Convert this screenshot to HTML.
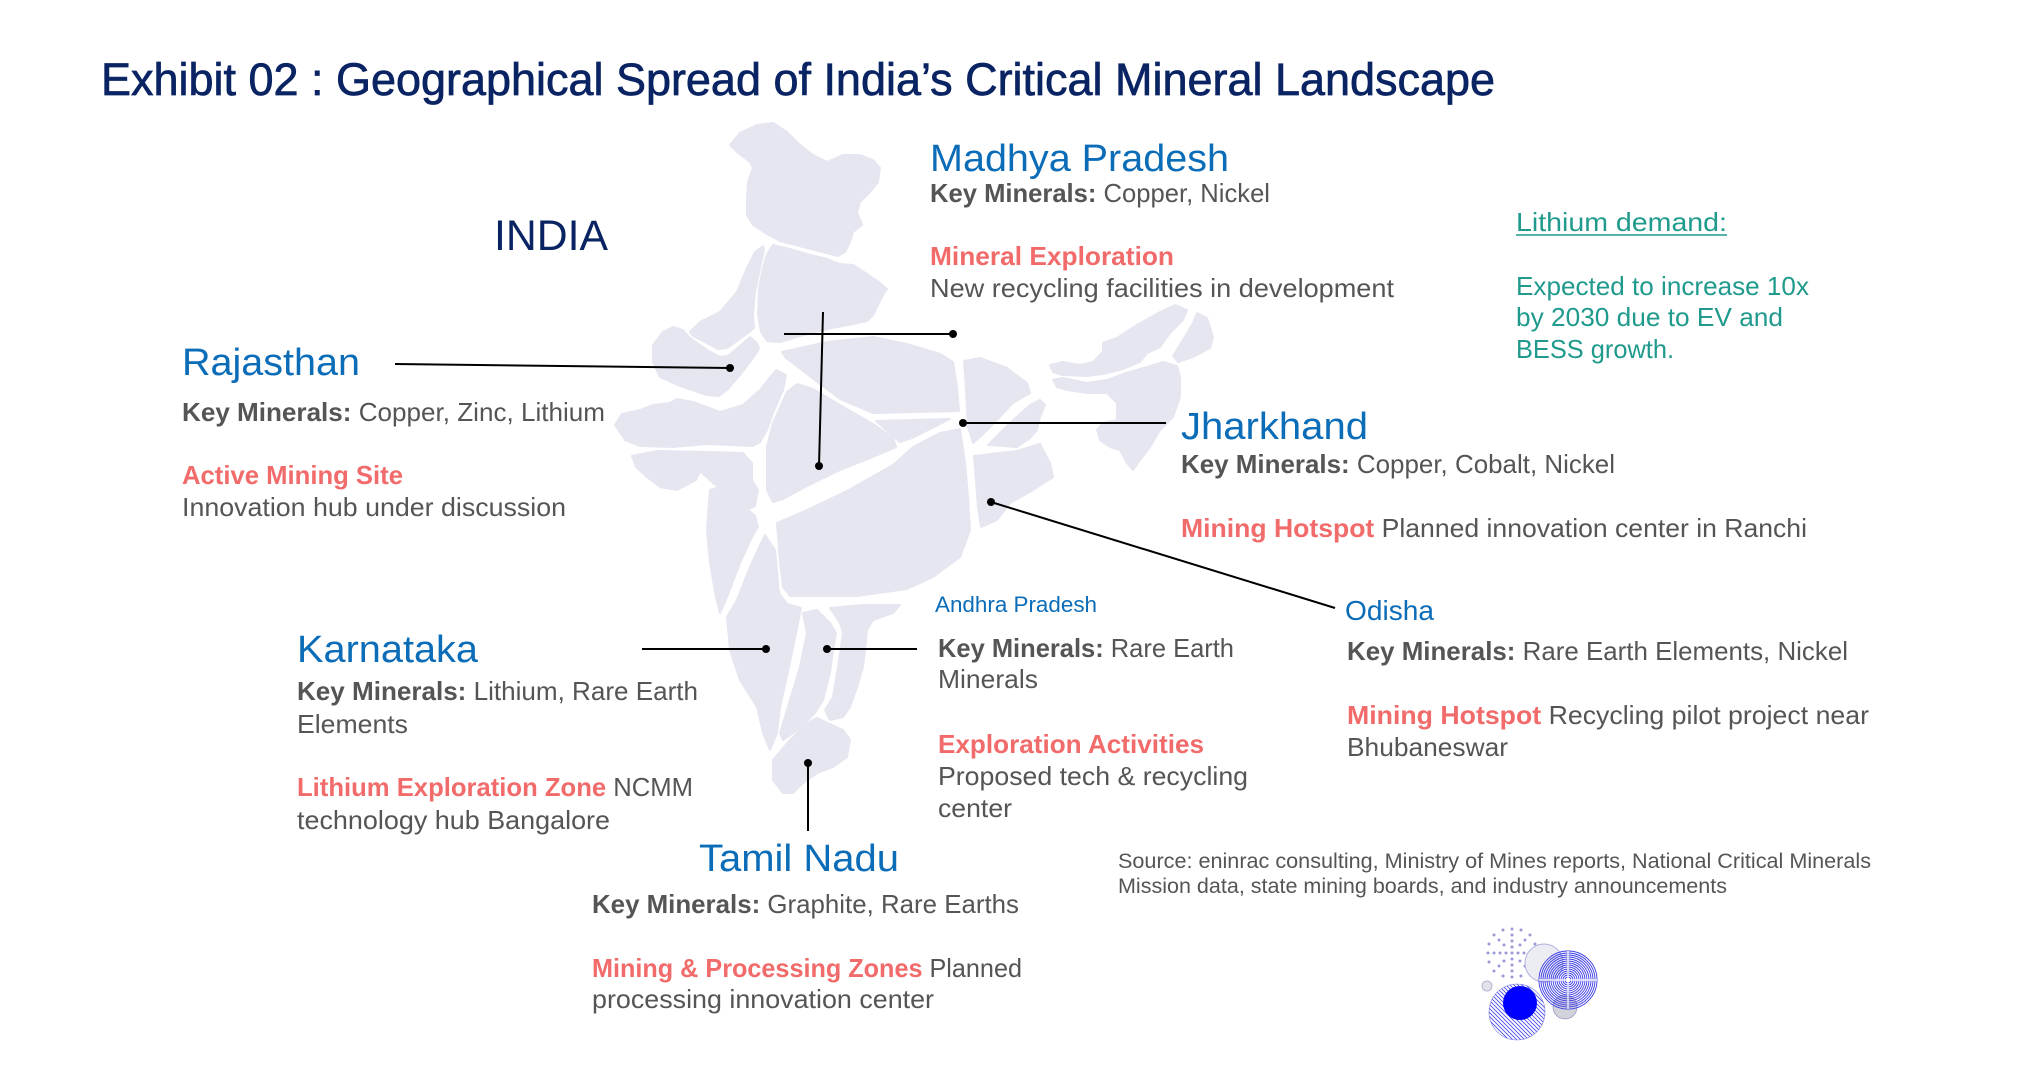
<!DOCTYPE html>
<html><head><meta charset="utf-8"><style>
html,body{margin:0;padding:0;background:#fff;}
svg{display:block;}
text{font-family:"Liberation Sans",sans-serif;}
.h{fill:#0b6cb8;font-size:38px;}
.b{fill:#555;font-size:26px;}
.k{font-weight:bold;}
.r{fill:#f26b6b;font-weight:bold;}
.t{fill:#1f9a8c;font-size:26px;}
.m{fill:#e5e6f0;stroke:#e5e6f0;stroke-width:2;stroke-linejoin:round;}
</style></head><body>
<svg width="2041" height="1077" viewBox="0 0 2041 1077" xmlns="http://www.w3.org/2000/svg">
<defs>
<clipPath id="hc"><circle cx="1517" cy="1012" r="28"/></clipPath>
</defs>
<g class="m">
<polygon points="730,145 740,133 757,125 773,123 787,132 800,145 813,155 827,162 843,155 860,155 873,160 880,168 878,182 870,192 860,202 857,212 862,225 853,232 850,242 845,252 838,256 807,248 780,241 767,234 753,225 747,215 747,198 748,182 753,168 750,162 737,152"/>
<polygon points="773,245 790,249 807,254 827,259 840,264 853,265 867,274 880,283 887,289 883,295 878,305 873,315 867,321 853,324 827,329 800,336 780,342 767,341 761,332 758,315 759,288 763,268 767,254"/>
<polygon points="690,332 700,322 720,312 737,292 747,268 755,252 763,246 764,250 760,268 755,292 753,315 754,328 748,333 737,341 727,348 718,349 703,341 693,336"/>
<polygon points="653,345 663,332 673,327 683,330 690,338 707,350 720,357 728,356 740,346 750,337 757,343 759,349 750,362 740,375 727,390 719,396 707,395 680,386 660,377 653,362"/>
<polygon points="615,425 622,414 640,410 653,405 670,403 677,399 693,402 720,412 743,405 760,390 776,370 786,375 783,390 773,413 767,430 760,442 753,446 707,444 673,447 640,446 625,440"/>
<polygon points="632,456 657,451 707,452 743,453 752,463 752,480 758,490 755,506 749,509 733,499 713,483 700,471 696,480 677,490 660,487 647,477 636,467"/>
<polygon points="710,490 720,487 737,500 755,516 758,527 752,537 740,563 727,597 720,613 716,597 710,563 707,530"/>
<polygon points="767,447 773,423 787,392 797,384 813,389 840,405 873,424 893,438 896,447 873,457 840,470 807,486 783,499 773,502 767,490"/>
<polygon points="777,523 807,510 847,491 893,465 913,447 940,433 960,429 965,463 968,497 970,530 960,557 933,577 907,589 857,596 790,596 783,587 780,563"/>
<polygon points="876,421 950,419 912,438 900,442"/>
<polygon points="782,352 827,342 873,337 907,344 940,354 953,362 957,387 959,411 873,413 840,399 786,358"/>
<polygon points="964,361 980,358 1007,368 1027,383 1030,393 1013,403 997,420 980,437 973,443 968,427 966,390"/>
<polygon points="988,445 1010,423 1030,405 1040,400 1045,405 1040,417 1037,430 1030,438 1017,447"/>
<polygon points="974,456 1017,451 1040,444 1050,463 1053,477 1033,490 1010,503 997,520 981,527 978,507"/>
<polygon points="1053,380 1063,378 1087,383 1107,380 1123,374 1140,369 1157,364 1163,362 1177,366 1180,377 1180,397 1173,417 1160,430 1150,447 1140,460 1133,470 1127,463 1120,450 1110,447 1100,440 1097,430 1103,423 1117,420 1117,403 1107,393 1087,393 1067,390 1057,387"/>
<polygon points="1050,365 1063,362 1080,365 1093,362 1103,352 1103,343 1117,338 1137,325 1160,312 1175,305 1187,310 1183,320 1170,333 1160,347 1147,353 1140,362 1123,369 1103,374 1087,376 1063,375 1053,372"/>
<polygon points="1173,356 1183,340 1193,323 1197,313 1207,318 1213,337 1210,348 1193,357 1178,362"/>
<polygon points="830,608 863,605 900,605 893,613 873,620 867,630 865,650 863,667 857,687 850,707 843,717 830,720 825,710 833,697 838,667 843,633 840,623"/>
<polygon points="803,613 817,610 830,623 836,633 833,650 830,673 823,700 815,713 797,730 783,740 780,733 790,700 800,667 807,633"/>
<polygon points="727,617 737,600 750,567 765,535 775,550 779,593 787,604 801,608 796,633 789,667 780,707 777,733 770,750 763,733 757,707 740,680 730,650"/>
<polygon points="773,760 790,740 807,723 817,718 843,730 850,740 847,757 833,767 817,773 803,783 793,793 783,793 773,780"/>
</g>
<g stroke="#000" stroke-width="2" fill="none">
<line x1="395" y1="364" x2="730" y2="368"/>
<line x1="784" y1="334" x2="953" y2="334"/>
<line x1="823" y1="312" x2="819" y2="466"/>
<line x1="963" y1="423" x2="1166" y2="423"/>
<line x1="991" y1="502" x2="1335" y2="608"/>
<line x1="642" y1="649" x2="766" y2="649"/>
<line x1="827" y1="649" x2="917" y2="649"/>
<line x1="808" y1="763" x2="808" y2="831"/>
</g>
<g fill="#000">
<circle cx="730" cy="368" r="4"/><circle cx="953" cy="334" r="4"/><circle cx="819" cy="466" r="4"/>
<circle cx="963" cy="423" r="4"/><circle cx="991" cy="502" r="4"/><circle cx="766" cy="649" r="4"/>
<circle cx="827" cy="649" r="4"/><circle cx="808" cy="763" r="4"/>
</g>
<text x="101" y="95" font-size="45" fill="#0a2463" stroke="#0a2463" stroke-width="0.7" textLength="1394" lengthAdjust="spacingAndGlyphs">Exhibit 02 : Geographical Spread of India’s Critical Mineral Landscape</text>
<text x="494" y="250" font-size="43" fill="#0a2463" textLength="114" lengthAdjust="spacingAndGlyphs">INDIA</text>

<text class="h" x="930" y="171" textLength="299" lengthAdjust="spacingAndGlyphs">Madhya Pradesh</text>
<text class="b" x="930" y="202" textLength="340" lengthAdjust="spacingAndGlyphs"><tspan class="k">Key Minerals:</tspan> Copper, Nickel</text>
<text class="b r" x="930" y="265" textLength="244" lengthAdjust="spacingAndGlyphs">Mineral Exploration</text>
<text class="b" x="930" y="297" textLength="464" lengthAdjust="spacingAndGlyphs">New recycling facilities in development</text>

<text class="h" x="182" y="375" textLength="178" lengthAdjust="spacingAndGlyphs">Rajasthan</text>
<text class="b" x="182" y="421" textLength="423" lengthAdjust="spacingAndGlyphs"><tspan class="k">Key Minerals:</tspan> Copper, Zinc, Lithium</text>
<text class="b r" x="182" y="484" textLength="221" lengthAdjust="spacingAndGlyphs">Active Mining Site</text>
<text class="b" x="182" y="516" textLength="384" lengthAdjust="spacingAndGlyphs">Innovation hub under discussion</text>

<text class="t" x="1516" y="231" textLength="211" lengthAdjust="spacingAndGlyphs">Lithium demand:</text>
<line x1="1516" y1="235" x2="1727" y2="235" stroke="#1f9a8c" stroke-width="1.5"/>
<text class="t" x="1516" y="295" textLength="293" lengthAdjust="spacingAndGlyphs">Expected to increase 10x</text>
<text class="t" x="1516" y="326" textLength="267" lengthAdjust="spacingAndGlyphs">by 2030 due to EV and</text>
<text class="t" x="1516" y="358" textLength="158" lengthAdjust="spacingAndGlyphs">BESS growth.</text>

<text class="h" x="1181" y="439" textLength="187" lengthAdjust="spacingAndGlyphs">Jharkhand</text>
<text class="b" x="1181" y="473" textLength="434" lengthAdjust="spacingAndGlyphs"><tspan class="k">Key Minerals:</tspan> Copper, Cobalt, Nickel</text>
<text class="b" x="1181" y="537" textLength="626" lengthAdjust="spacingAndGlyphs"><tspan class="r">Mining Hotspot</tspan> Planned innovation center in Ranchi</text>

<text class="h" x="935" y="612" font-size="22" style="font-size:22px" textLength="162" lengthAdjust="spacingAndGlyphs">Andhra Pradesh</text>
<text class="b" x="938" y="657" textLength="296" lengthAdjust="spacingAndGlyphs"><tspan class="k">Key Minerals:</tspan> Rare Earth</text>
<text class="b" x="938" y="688" textLength="100" lengthAdjust="spacingAndGlyphs">Minerals</text>
<text class="b r" x="938" y="753" textLength="266" lengthAdjust="spacingAndGlyphs">Exploration Activities</text>
<text class="b" x="938" y="785" textLength="310" lengthAdjust="spacingAndGlyphs">Proposed tech &amp; recycling</text>
<text class="b" x="938" y="817" textLength="74" lengthAdjust="spacingAndGlyphs">center</text>

<text class="h" x="1345" y="620" style="font-size:28px" textLength="89" lengthAdjust="spacingAndGlyphs">Odisha</text>
<text class="b" x="1347" y="660" textLength="501" lengthAdjust="spacingAndGlyphs"><tspan class="k">Key Minerals:</tspan> Rare Earth Elements, Nickel</text>
<text class="b" x="1347" y="724" textLength="522" lengthAdjust="spacingAndGlyphs"><tspan class="r">Mining Hotspot</tspan> Recycling pilot project near</text>
<text class="b" x="1347" y="756" textLength="161" lengthAdjust="spacingAndGlyphs">Bhubaneswar</text>

<text class="h" x="297" y="662" textLength="181" lengthAdjust="spacingAndGlyphs">Karnataka</text>
<text class="b" x="297" y="700" textLength="401" lengthAdjust="spacingAndGlyphs"><tspan class="k">Key Minerals:</tspan> Lithium, Rare Earth</text>
<text class="b" x="297" y="733" textLength="111" lengthAdjust="spacingAndGlyphs">Elements</text>
<text class="b" x="297" y="796" textLength="396" lengthAdjust="spacingAndGlyphs"><tspan class="r">Lithium Exploration Zone</tspan> NCMM</text>
<text class="b" x="297" y="829" textLength="313" lengthAdjust="spacingAndGlyphs">technology hub Bangalore</text>

<text class="h" x="699" y="871" textLength="200" lengthAdjust="spacingAndGlyphs">Tamil Nadu</text>
<text class="b" x="592" y="913" textLength="427" lengthAdjust="spacingAndGlyphs"><tspan class="k">Key Minerals:</tspan> Graphite, Rare Earths</text>
<text class="b" x="592" y="977" textLength="430" lengthAdjust="spacingAndGlyphs"><tspan class="r">Mining &amp; Processing Zones</tspan> Planned</text>
<text class="b" x="592" y="1008" textLength="342" lengthAdjust="spacingAndGlyphs">processing innovation center</text>

<text x="1118" y="868" font-size="21" fill="#555" textLength="753" lengthAdjust="spacingAndGlyphs">Source: eninrac consulting, Ministry of Mines reports, National Critical Minerals</text>
<text x="1118" y="893" font-size="21" fill="#555" textLength="609" lengthAdjust="spacingAndGlyphs">Mission data, state mining boards, and industry announcements</text>

<!-- logo -->
<g fill="#9a9ad8">
<circle cx="1512" cy="953" r="1.5"/>
<circle cx="1518" cy="953" r="1.5"/><circle cx="1506" cy="953" r="1.5"/><circle cx="1512" cy="947" r="1.5"/><circle cx="1512" cy="959" r="1.5"/>
<circle cx="1524" cy="953" r="1.5"/><circle cx="1500" cy="953" r="1.5"/><circle cx="1512" cy="941" r="1.5"/><circle cx="1512" cy="965" r="1.5"/>
<circle cx="1520" cy="945" r="1.5"/><circle cx="1504" cy="945" r="1.5"/><circle cx="1520" cy="961" r="1.5"/><circle cx="1504" cy="961" r="1.5"/>
<circle cx="1530" cy="953" r="1.5"/><circle cx="1494" cy="953" r="1.5"/><circle cx="1512" cy="935" r="1.5"/><circle cx="1512" cy="971" r="1.5"/>
<circle cx="1525" cy="940" r="1.5"/><circle cx="1499" cy="940" r="1.5"/><circle cx="1525" cy="966" r="1.5"/><circle cx="1499" cy="966" r="1.5"/>
<circle cx="1536" cy="953" r="1.5"/><circle cx="1488" cy="953" r="1.5"/><circle cx="1512" cy="929" r="1.5"/><circle cx="1512" cy="977" r="1.5"/>
<circle cx="1530" cy="935" r="1.5"/><circle cx="1494" cy="935" r="1.5"/><circle cx="1530" cy="971" r="1.5"/><circle cx="1494" cy="971" r="1.5"/>
<circle cx="1521" cy="930" r="1.5"/><circle cx="1503" cy="930" r="1.5"/><circle cx="1521" cy="976" r="1.5"/><circle cx="1503" cy="976" r="1.5"/>
<circle cx="1535" cy="944" r="1.5"/><circle cx="1489" cy="944" r="1.5"/><circle cx="1535" cy="962" r="1.5"/><circle cx="1489" cy="962" r="1.5"/>
</g>
<circle cx="1544" cy="963" r="19" fill="#ececf3" stroke="#aeb0e0" stroke-width="1"/>
<circle cx="1487" cy="986" r="5" fill="#e2e2ea" stroke="#a8a8cc" stroke-width="0.8"/>
<circle cx="1565" cy="1007" r="12" fill="#d2d2da" stroke="#9a9ac8" stroke-width="0.8"/>
<g fill="none" stroke="#3b3be6" stroke-width="0.9">
<circle cx="1568" cy="980" r="29"/><circle cx="1568" cy="980" r="27"/><circle cx="1568" cy="980" r="25"/><circle cx="1568" cy="980" r="23"/>
<circle cx="1568" cy="980" r="21"/><circle cx="1568" cy="980" r="19"/><circle cx="1568" cy="980" r="17"/><circle cx="1568" cy="980" r="15"/>
<circle cx="1568" cy="980" r="13"/><circle cx="1568" cy="980" r="11"/><circle cx="1568" cy="980" r="9"/><circle cx="1568" cy="980" r="7"/>
<circle cx="1568" cy="980" r="5"/><circle cx="1568" cy="980" r="3"/>
</g>
<g stroke="#fff" stroke-width="1.2"><line x1="1539" y1="980" x2="1597" y2="980"/><line x1="1568" y1="951" x2="1568" y2="1009"/></g>
<g clip-path="url(#hc)" stroke="#4a4ae6" stroke-width="0.9">
<line x1="1480" y1="975" x2="1560" y2="1055"/><line x1="1484" y1="975" x2="1564" y2="1055"/><line x1="1488" y1="975" x2="1568" y2="1055"/>
<line x1="1476" y1="975" x2="1556" y2="1055"/><line x1="1472" y1="975" x2="1552" y2="1055"/><line x1="1468" y1="975" x2="1548" y2="1055"/>
<line x1="1464" y1="975" x2="1544" y2="1055"/><line x1="1460" y1="975" x2="1540" y2="1055"/><line x1="1456" y1="975" x2="1536" y2="1055"/>
<line x1="1452" y1="975" x2="1532" y2="1055"/><line x1="1448" y1="975" x2="1528" y2="1055"/><line x1="1444" y1="975" x2="1524" y2="1055"/>
<line x1="1440" y1="975" x2="1520" y2="1055"/><line x1="1436" y1="975" x2="1516" y2="1055"/><line x1="1432" y1="975" x2="1512" y2="1055"/>
<line x1="1492" y1="975" x2="1572" y2="1055"/><line x1="1496" y1="975" x2="1576" y2="1055"/><line x1="1500" y1="975" x2="1580" y2="1055"/>
<line x1="1504" y1="975" x2="1584" y2="1055"/><line x1="1508" y1="975" x2="1588" y2="1055"/><line x1="1512" y1="975" x2="1592" y2="1055"/>
<line x1="1516" y1="975" x2="1596" y2="1055"/><line x1="1520" y1="975" x2="1600" y2="1055"/><line x1="1524" y1="975" x2="1604" y2="1055"/>
<line x1="1528" y1="975" x2="1608" y2="1055"/><line x1="1532" y1="975" x2="1612" y2="1055"/><line x1="1536" y1="975" x2="1616" y2="1055"/>
<line x1="1540" y1="975" x2="1620" y2="1055"/><line x1="1544" y1="975" x2="1624" y2="1055"/>
</g>
<circle cx="1517" cy="1012" r="28" fill="none" stroke="#7a7ae6" stroke-width="0.6"/>
<circle cx="1520" cy="1003" r="17" fill="#0000ff"/>
</svg>
</body></html>
